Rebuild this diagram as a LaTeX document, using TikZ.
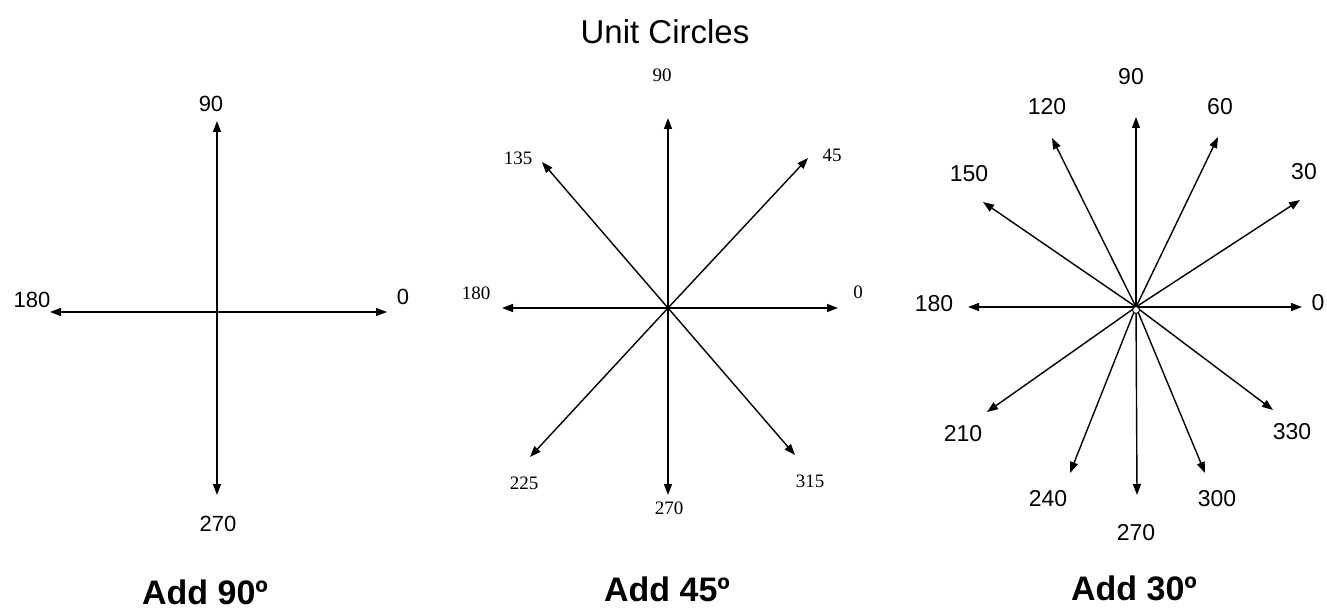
\documentclass[tikz,border=0pt]{standalone}
\usepackage{fontspec}
\setmainfont{Liberation Sans}
\newfontfamily\serifnum{Liberation Serif}
\usetikzlibrary{arrows.meta}
\begin{document}
\begin{tikzpicture}[x=1pt,y=-1pt,
  ray/.style={line width=1.4pt,-{Triangle[length=11pt,width=8pt]}},
  labA/.style={font=\fontsize{22}{24}\selectfont,inner sep=0pt},
  labB/.style={font=\serifnum\fontsize{19}{21}\selectfont,inner sep=0pt},
  labC/.style={font=\fontsize{23}{25}\selectfont,inner sep=0pt},
  heading/.style={font=\fontsize{33}{36}\selectfont,anchor=base,inner sep=0pt},
  caption/.style={font=\bfseries\fontsize{34}{36}\selectfont,anchor=base,inner sep=0pt}]
\useasboundingbox (0,0) rectangle (1327,609);
\node[heading] (title) at (665,44) {Unit Circles};

% ---- diagram 1
\coordinate (c1) at (217,312);
\coordinate (a1t0) at (387,312);
\coordinate (a1t90) at (217,121);
\coordinate (a1t180) at (50,312);
\coordinate (a1t270) at (217,495);
\foreach \t in {0,90,180,270} \draw[ray] (c1) -- (a1t\t);
\node[labA] (l1a) at (211,104) {90};
\node[labA] (l1b) at (32,300) {180};
\node[labA] (l1c) at (403,297) {0};
\node[labA] (l1d) at (218,524) {270};
\node[caption] (cap1) at (205,604) {Add 90º};

% ---- diagram 2
\coordinate (c2) at (668,308);
\coordinate (a2t0) at (838,308);
\coordinate (a2t45) at (808,158);
\coordinate (a2t90) at (668,118);
\coordinate (a2t135) at (542,162);
\coordinate (a2t180) at (502,308);
\coordinate (a2t225) at (530,457);
\coordinate (a2t270) at (668,495);
\coordinate (a2t315) at (795,455);
\foreach \t in {0,45,90,135,180,225,270,315} \draw[ray] (c2) -- (a2t\t);
\node[labB] (l2a) at (662,75) {90};
\node[labB] (l2b) at (518,158) {135};
\node[labB] (l2c) at (832,155) {45};
\node[labB] (l2d) at (476,293) {180};
\node[labB] (l2e) at (858,292) {0};
\node[labB] (l2f) at (524,483) {225};
\node[labB] (l2g) at (810,481) {315};
\node[labB] (l2h) at (669,508) {270};
\node[caption] (cap2) at (667,601) {Add 45º};

% ---- diagram 3
\coordinate (c3) at (1136,307);
\coordinate (a3t0) at (1302,307);
\coordinate (a3t30) at (1300,200);
\coordinate (a3t60) at (1218,137);
\coordinate (a3t90) at (1136,117);
\coordinate (a3t120) at (1052,138);
\coordinate (a3t150) at (983,202);
\coordinate (a3t180) at (968,307);
\coordinate (a3t210) at (987,412);
\coordinate (a3t240) at (1070,473);
\coordinate (a3t270) at (1137,495);
\coordinate (a3t300) at (1205,473);
\coordinate (a3t330) at (1273,410);
\foreach \t in {0,30,60,90,120,150,180,210,240,270,300,330} \draw[ray] (c3) -- (a3t\t);
\draw[line width=1pt,fill=white] (c3) ++(0,3) circle[radius=3.5];
\node[labC] (l3a) at (1131,77) {90};
\node[labC] (l3b) at (1047,107) {120};
\node[labC] (l3c) at (1220,107) {60};
\node[labC] (l3d) at (969,174) {150};
\node[labC] (l3e) at (1304,172) {30};
\node[labC] (l3f) at (934,304) {180};
\node[labC] (l3g) at (1318,303) {0};
\node[labC] (l3h) at (963,434) {210};
\node[labC] (l3i) at (1292,432) {330};
\node[labC] (l3j) at (1048,499) {240};
\node[labC] (l3k) at (1217,499) {300};
\node[labC] (l3l) at (1136,533) {270};
\node[caption] (cap3) at (1134,600) {Add 30º};
\end{tikzpicture}
\end{document}
